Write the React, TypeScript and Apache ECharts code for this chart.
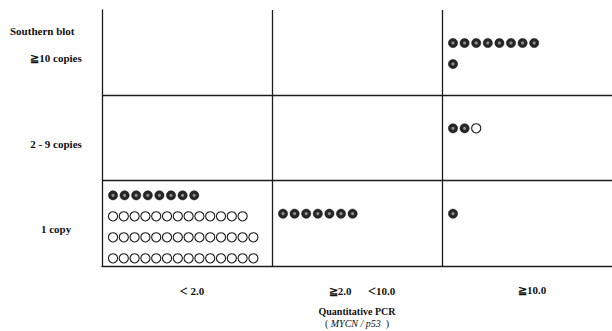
import React, { useEffect, useRef } from "react";
import * as echarts from "echarts";

// Quantitative PCR (MYCN / p53) categories, left to right
const pcrCategories = ["< 2.0", "≧2.0      <10.0", "≧10.0"];
// Southern blot categories, bottom to top
const southernCategories = ["1 copy", "2 - 9 copies", "≧10 copies"];

// Cases in each cell, written as the printed lines of dots.
// F = filled (dark) dot, O = open circle. Index order: [pcr column]
const row1Copy = [
  ["FFFFFFFF", "OOOOOOOOOOOOO", "OOOOOOOOOOOOOO", "OOOOOOOOOOOOOO"],
  ["FFFFFFF"],
  ["F"],
];
const row2to9Copies = [[], [], ["FFO"]];
const row10Copies = [[], [], ["FFFFFFFF", "F"]];

const cellRows = [row1Copy, row2to9Copies, row10Copies];

const FONT = "'Liberation Serif', 'DejaVu Serif', serif";

function buildDots() {
  const out: number[][] = [];
  cellRows.forEach((row, s) => {
    row.forEach((lines, p) => {
      lines.forEach((line, li) => {
        const hasFilled = line.indexOf("F") >= 0 ? 1 : 0;
        line.split("").forEach((ch, di) => {
          out.push([p, s, li, di, ch === "F" ? 1 : 0, lines.length, hasFilled]);
        });
      });
    });
  });
  return out;
}

export default function App() {
  const ref = useRef<HTMLDivElement>(null);
  useEffect(() => {
    if (!ref.current) return;
    const chart = echarts.init(ref.current, null, { renderer: "svg" });
    const lineColor = "#1c1c1c";
    const option: any = {
      animation: false,
      backgroundColor: "#ffffff",
      grid: { left: 102, right: 0, top: 10, bottom: 65, containLabel: false, outerBoundsMode: "none" },
      xAxis: {
        type: "category",
        data: pcrCategories,
        boundaryGap: true,
        axisLine: { show: true, lineStyle: { color: lineColor, width: 1.3 } },
        axisTick: { show: false },
        splitLine: { show: true, showMinLine: false, showMaxLine: false, lineStyle: { color: lineColor, width: 1.3 } },
        axisLabel: {
          margin: 18,
          color: "#111",
          fontFamily: FONT,
          fontSize: 11,
          fontWeight: "bold",
          padding: [0, 0, 0, 10],
          formatter: (v: string) => v.replace(/</g, "{lt|<}"),
          rich: {
            lt: { fontFamily: FONT, fontSize: 14, color: "#111" },
          },
        },
        name: "{a|Quantitative PCR}\n{b|( }{i|MYCN / p53}{b|  )}",
        nameLocation: "middle",
        nameGap: 39,
        nameTextStyle: {
          color: "#111",
          fontFamily: FONT,
          fontSize: 10,
          rich: {
            a: { fontFamily: FONT, fontSize: 10, fontWeight: "bold", color: "#111", lineHeight: 12 },
            b: { fontFamily: FONT, fontSize: 10, color: "#111", lineHeight: 12 },
            i: { fontFamily: FONT, fontSize: 10, fontStyle: "italic", color: "#111", lineHeight: 12 },
          },
        },
      },
      yAxis: {
        type: "category",
        data: southernCategories,
        boundaryGap: true,
        axisLine: { show: true, lineStyle: { color: lineColor, width: 1.3 } },
        axisTick: { show: false },
        splitLine: { show: true, showMinLine: false, showMaxLine: false, lineStyle: { color: lineColor, width: 1.3 } },
        axisLabel: {
          margin: 46,
          align: "center",
          verticalAlign: "top",
          color: "#111",
          fontFamily: FONT,
          fontSize: 11,
          fontWeight: "bold",
        },
      },
      graphic: [
        {
          type: "text",
          left: 10,
          top: 25,
          style: { text: "Southern blot", fontFamily: FONT, fontSize: 11, fontWeight: "bold", fill: "#111" },
        },
      ],
      series: [
        {
          type: "custom",
          coordinateSystem: "cartesian2d",
          data: buildDots(),
          renderItem: (params: any, api: any) => {
            const c = api.value(0);
            const s = api.value(1);
            const li = api.value(2);
            const di = api.value(3);
            const filled = api.value(4);
            const n = api.value(5);
            const hasFilled = api.value(6);
            const center = api.coord([c, s]);
            const size = api.size([1, 1]);
            const left = center[0] - size[0] / 2;
            const top = center[1] - size[1] / 2;
            const linePitch = 21;
            const startPad = Math.min(33, (size[1] - (n - 1) * linePitch) / 2 + 3.5);
            const y = top + startPad + li * linePitch;
            const dotPitch = hasFilled ? 11.6 : 10.8;
            const x = left + 11 + di * dotPitch;
            if (filled) {
              return {
                type: "group",
                children: [
                  { type: "circle", shape: { cx: x, cy: y, r: 4.6 }, style: { fill: "#262626", stroke: "#111", lineWidth: 0.5 } },
                  { type: "circle", shape: { cx: x, cy: y, r: 1.6 }, style: { fill: "#8c8c8c" } },
                ],
              };
            }
            return {
              type: "circle",
              shape: { cx: x, cy: y, r: 4.6 },
              style: { fill: "#ffffff", stroke: "#1a1a1a", lineWidth: 1.1 },
            };
          },
        },
      ],
    };
    chart.setOption(option);
    return () => chart.dispose();
  }, []);
  return (
    <div
      ref={ref}
      style={{ position: "absolute", left: 0, top: 0, width: 612, height: 331, background: "#fff" }}
    />
  );
}
